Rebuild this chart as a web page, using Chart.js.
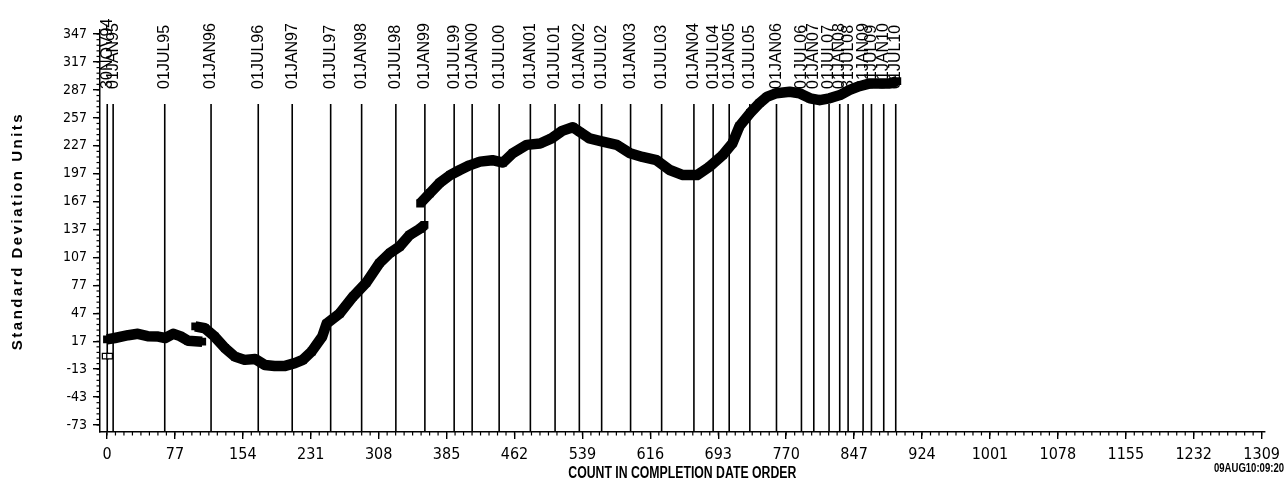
<!DOCTYPE html>
<html><head><meta charset="utf-8">
<script src="https://cdn.jsdelivr.net/npm/chart.js@4.4.1/dist/chart.umd.min.js"></script>
<style>html,body{margin:0;padding:0;background:#fff;}#wrap{width:1286px;height:496px;}</style>
</head><body><div id="wrap"><canvas id="c" width="1286" height="496"></canvas></div>
<script>
// ---- tick labels ----
const xTickValues = [0,77,154,231,308,385,462,539,616,693,770,847,924,1001,1078,1155,1232,1309];
const yTickValues = [-73,-43,-13,17,47,77,107,137,167,197,227,257,287,317,347];

// ---- reference date lines (count position + label) ----
const refCounts = [0.3,7,65.5,118,171.5,210,253.6,288.7,327.5,360.4,393.6,414,444.6,480,508,535.5,560.8,593.6,628.8,665.4,687.2,705.4,728.8,759,787.3,801.3,818.6,830.7,840.2,857.2,866.7,880.6,894.2];
const refLabels = ["30NOV94","01JAN95","01JUL95","01JAN96","01JUL96","01JAN97","01JUL97","01JAN98","01JUL98","01JAN99","01JUL99","01JAN00","01JUL00","01JAN01","01JUL01","01JAN02","01JUL02","01JAN03","01JUL03","01JAN04","01JUL04","01JAN05","01JUL05","01JAN06","01JUL06","01JAN07","01JUL07","01JAN08","31JUL08","31JAN09","01JUL09","01JAN10","01JUL10"];

// ---- series: standard deviation units by count ----
const seg1Counts = [0,9,24,35,46,58,66,75,83,92,108];
const seg1Values = [19,20.5,23.5,25,22.5,22,20.5,25,22.5,17.5,16.5];
const seg2Counts = [100,111,122,134,145,156,168,179,190,202,213,222,232,244,249,264,279,294,309,321,332,343,355,360];
const seg2Values = [33,31,22,9.5,0.5,-3,-2,-8.5,-9.5,-9.5,-6.5,-3,6,22,36,47,65,80,101,112,119,131,138,142];
const seg3Counts = [355,366,377,389,400,411,423,437,449,460,476,491,504,516,528,536,547,562,578,593,607,623,638,653,669,683,698,709,717,729,740,748,759,774,785,797,808,819,831,842,853,865,876,887,896];
const seg3Values = [165,176,187,195.5,201,206,210,211.5,209,219,228,229.5,235,243,247,242,235,231.5,228,219,215,211.5,201,195.5,195.5,204.5,217,229.5,248,262,273,279.5,283.5,285,283.5,278,276,278,281.5,287,291,294,294,294,296.5];
const openCounts = [-2,3];
const openValues = [1,1];

const Y_MIN = -80.5, Y_MAX = 351.4, X_MIN = -7.9, X_MAX = 1312.3;
const REF_TOP = 272;
const X_MINOR = 77/8, Y_MINOR = 6;
const NARROW = "'Liberation Sans Narrow','DejaVu Sans Condensed','Liberation Sans',Arial,sans-serif";

function pts(cs, vs){ return cs.map((c,i)=>({x:c,y:vs[i]})); }
function seriesDs(cs, vs){
  return {data:pts(cs,vs), borderColor:'#000', backgroundColor:'#000', borderWidth:10.5,
    pointStyle:'rect', pointRadius:5.5, pointBorderWidth:0, borderJoinStyle:'round', borderCapStyle:'butt', tension:0, order:1};
}

const decor = {
  id:'decor',
  beforeDatasetsDraw(chart){
    const {ctx, scales:{x,y}} = chart;
    ctx.save();
    ctx.strokeStyle='#000'; ctx.lineWidth=1.6; ctx.fillStyle='#000';
    const yb = y.getPixelForValue(Y_MIN), yt = y.getPixelForValue(REF_TOP);
    refCounts.forEach((c,i)=>{
      const px = x.getPixelForValue(c);
      ctx.beginPath(); ctx.moveTo(px,yb); ctx.lineTo(px,yt); ctx.stroke();
      ctx.save(); ctx.translate(px, yt-15); ctx.rotate(-Math.PI/2);
      ctx.font="16px 'Liberation Sans', Arial, sans-serif"; ctx.textAlign='left'; ctx.textBaseline='middle';
      ctx.fillText(refLabels[i],0,0); ctx.restore();
    });
    ctx.restore();
  },
  afterDraw(chart){
    const {ctx, scales:{x,y}, chartArea:ca} = chart;
    ctx.save();
    ctx.strokeStyle='#000'; ctx.lineWidth=1.2;
    // minor ticks
    for(let v=0; v<=X_MAX; v+=X_MINOR){
      const px=x.getPixelForValue(v);
      ctx.beginPath(); ctx.moveTo(px,ca.bottom); ctx.lineTo(px,ca.bottom+3.5); ctx.stroke();
    }
    for(let v=-73; v<=Y_MAX; v+=Y_MINOR){
      const py=y.getPixelForValue(v);
      ctx.beginPath(); ctx.moveTo(ca.left,py); ctx.lineTo(ca.left-3.5,py); ctx.stroke();
    }
    ctx.fillStyle='#000';
    // y title
    ctx.save();
    ctx.translate(17.5,(ca.top+ca.bottom)/2); ctx.rotate(-Math.PI/2);
    ctx.font="bold 15px 'Liberation Sans', Arial, sans-serif";
    try{ ctx.letterSpacing='2.5px'; }catch(e){}
    ctx.textAlign='center'; ctx.textBaseline='middle';
    ctx.fillText('Standard Deviation Units',0,0);
    ctx.restore();
    // x title (condensed)
    ctx.save();
    ctx.font="bold 16px 'Liberation Sans', Arial, sans-serif";
    const t='COUNT IN COMPLETION DATE ORDER';
    const w=ctx.measureText(t).width;
    ctx.translate((ca.left+ca.right)/2, 474); ctx.scale(228/w,1);
    ctx.textAlign='center'; ctx.textBaseline='middle';
    ctx.fillText(t,0,0);
    ctx.restore();
    // timestamp
    ctx.save();
    ctx.font="bold 13px 'Liberation Sans', Arial, sans-serif";
    const ts='09AUG10:09:20';
    const w2=ctx.measureText(ts).width;
    ctx.translate(1284, 468); ctx.scale(70/w2,1);
    ctx.textAlign='right'; ctx.textBaseline='middle';
    ctx.fillText(ts,0,0);
    ctx.restore();
    ctx.restore();
  }
};

new Chart(document.getElementById('c'), {
  type:'line',
  data:{datasets:[
    seriesDs(seg1Counts,seg1Values),
    seriesDs(seg2Counts,seg2Values),
    seriesDs(seg3Counts,seg3Values),
    {data:pts(openCounts,openValues), showLine:false, pointStyle:'rect', pointRadius:4, borderColor:'#000', backgroundColor:'#fff', pointBorderWidth:1.3, order:0}
  ]},
  options:{
    responsive:false, animation:false, devicePixelRatio:1,
    layout:{padding:{top:30,right:21,left:0,bottom:0}},
    plugins:{legend:{display:false}, tooltip:{enabled:false}},
    scales:{
      x:{type:'linear', min:X_MIN, max:X_MAX,
        afterBuildTicks:s=>{s.ticks=xTickValues.map(v=>({value:v}));},
        afterFit:s=>{s.height=64;},
        ticks:{autoSkip:false, maxRotation:0, color:'#000', padding:6, font:{family:NARROW,size:16}, callback:v=>String(v)},
        grid:{display:true, drawOnChartArea:false, drawTicks:true, tickLength:7, color:'#000', lineWidth:1.4},
        border:{display:true, color:'#000', width:1.5}
      },
      y:{type:'linear', min:Y_MIN, max:Y_MAX,
        afterBuildTicks:s=>{s.ticks=yTickValues.map(v=>({value:v}));},
        afterFit:s=>{s.width=100;},
        ticks:{autoSkip:false, color:'#000', padding:6, font:{family:NARROW,size:14}, callback:v=>String(v)},
        grid:{display:true, drawOnChartArea:false, drawTicks:true, tickLength:7, color:'#000', lineWidth:1.4},
        border:{display:true, color:'#000', width:1.5}
      }
    }
  },
  plugins:[decor]
});
</script>
</body></html>
